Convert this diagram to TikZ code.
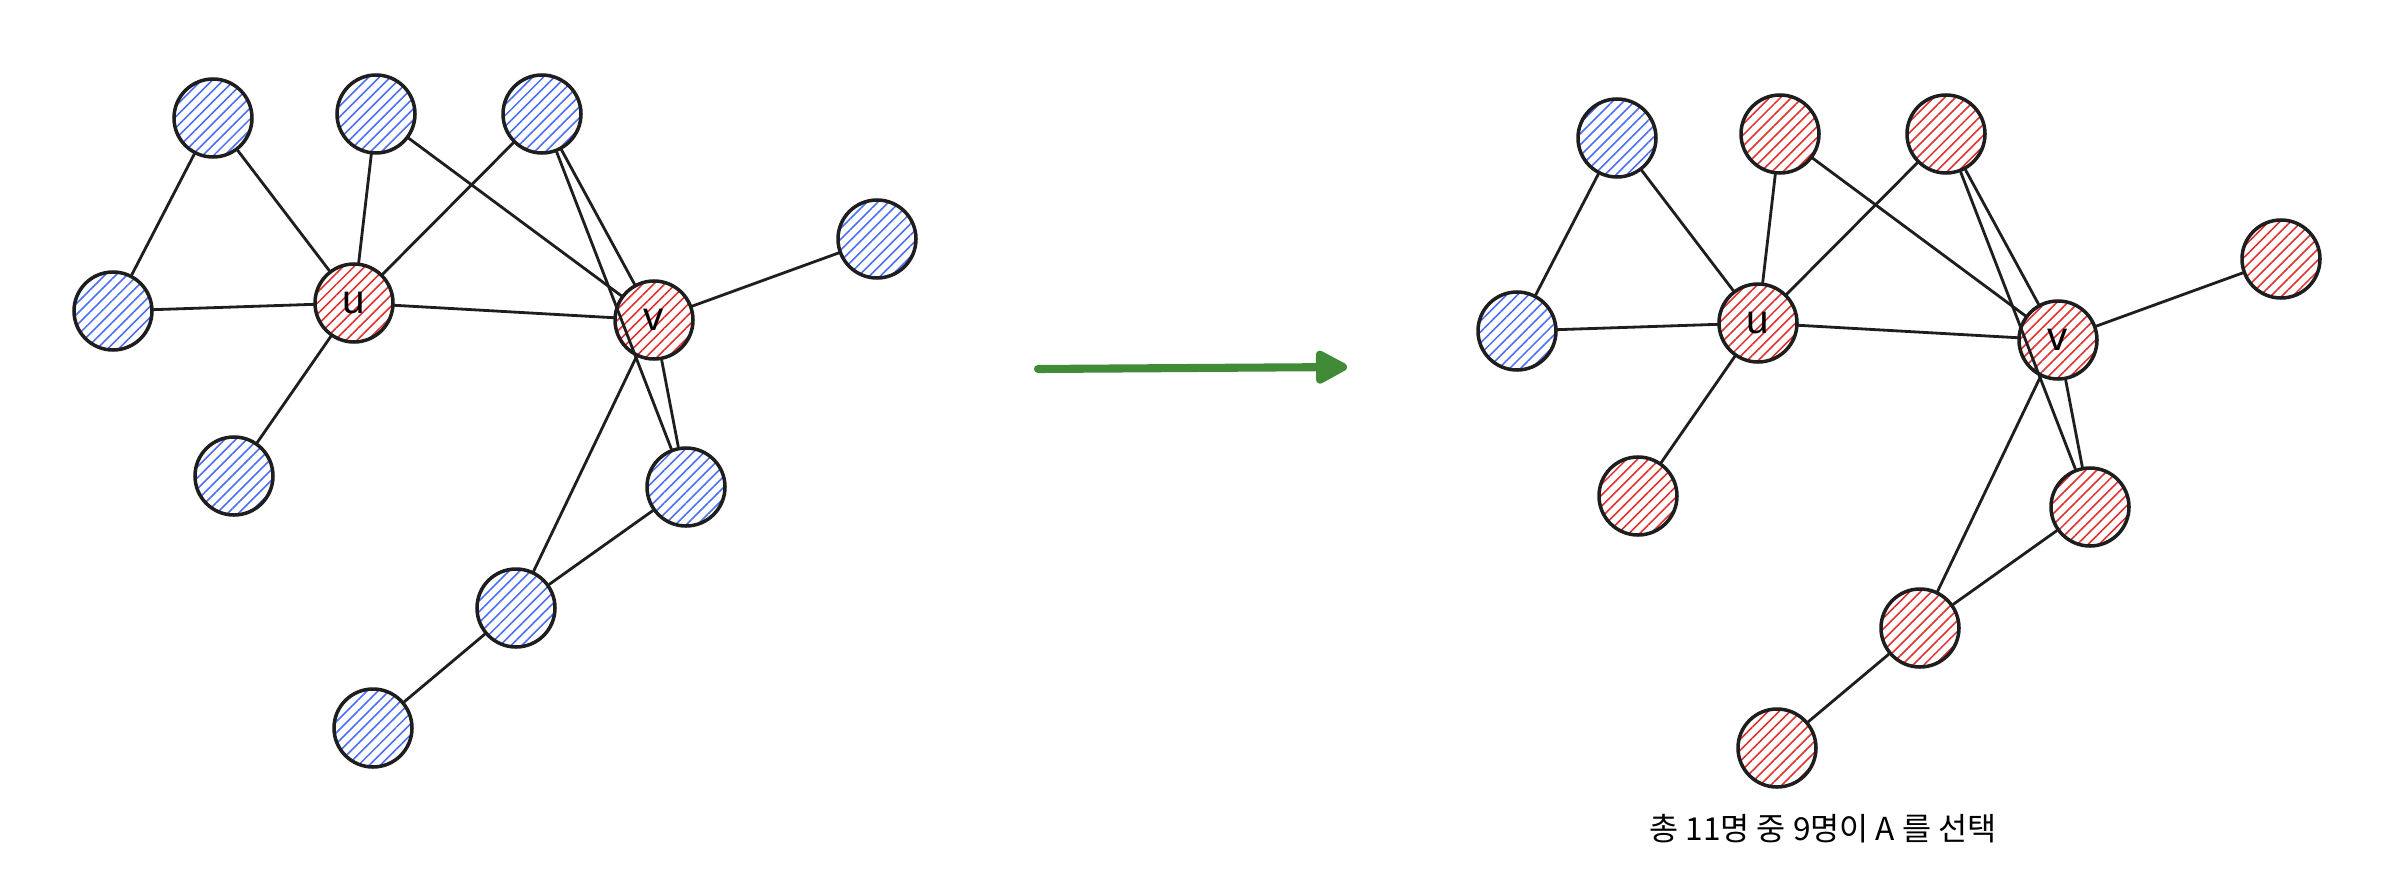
\documentclass[tikz,border=0pt]{standalone}
\usepackage{fontspec}
\setmainfont{Liberation Sans}
\newfontfamily\krfont{Noto Sans CJK KR}
\usetikzlibrary{patterns.meta,arrows.meta}
\definecolor{hblue}{RGB}{76,110,245}
\definecolor{hred}{RGB}{224,49,49}
\definecolor{ink}{RGB}{30,30,30}
\definecolor{arrowgreen}{RGB}{64,138,56}
\tikzset{
	person/.style={circle, draw=ink, line width=1pt, minimum size=7.8mm, inner sep=0pt,
		font=\fontsize{11.5}{13}\selectfont},
	blueperson/.style={person, pattern={Lines[angle=45,distance=2.2pt,line width=0.45pt]}, pattern color=hblue},
	redperson/.style={person, pattern={Lines[angle=45,distance=2.2pt,line width=0.45pt]}, pattern color=hred},
	tie/.style={draw=ink, line width=0.8pt},
}
\begin{document}
\begin{tikzpicture}[x=0.1mm, y=-0.1mm, line cap=round, line join=round]
	\useasboundingbox (0,0) rectangle (2390,894);
	\foreach \g/\dx/\dy/\other in {L/0/0/blueperson, R/1404/20/redperson} {
		\begin{scope}[shift={(\dx,\dy)}]
			\node[blueperson] (\g-a) at (213,118) {};
			\node[\other] (\g-b) at (376,114) {};
			\node[\other] (\g-c) at (542,114) {};
			\node[blueperson] (\g-d) at (113,311) {};
			\node[redperson] (\g-u) at (354,303) {u};
			\node[redperson] (\g-v) at (654,320) {v};
			\node[\other] (\g-e) at (877,239) {};
			\node[\other] (\g-f) at (234,476) {};
			\node[\other] (\g-g) at (686,487) {};
			\node[\other] (\g-h) at (516,608) {};
			\node[\other] (\g-i) at (373,728) {};
			\foreach \s/\t in {a/d, a/u, b/u, b/v, c/u, c/v, c/g, d/u, u/v, u/f, v/e, v/g, v/h, g/h, h/i}
				\draw[tie] (\g-\s) -- (\g-\t);
		\end{scope}
	}
	\coordinate (from) at (1038,369);
	\coordinate (to) at (1347,367);
	\draw[arrowgreen, line width=2.3pt, -{Triangle[length=3.6mm, width=3.6mm, round]}] (from) -- (to);
	\node[font=\krfont\fontsize{9}{11}\selectfont] (caption) at (1823,829) {총 11명 중 9명이 A 를 선택};
\end{tikzpicture}
\end{document}
